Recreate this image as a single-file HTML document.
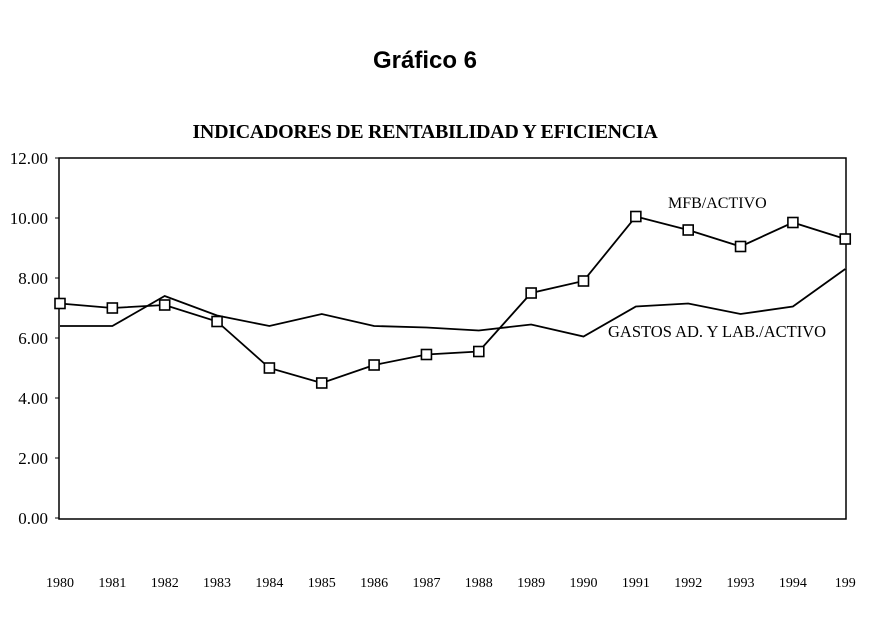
<!DOCTYPE html>
<html><head><meta charset="utf-8"><style>
body{margin:0;background:#fff;width:886px;height:636px;overflow:hidden}
svg{display:block}
</style></head><body>
<svg id="chart" width="886" height="636" font-family="Liberation Serif, serif">
<text x="425" y="68" text-anchor="middle" font-family="Liberation Sans, sans-serif" font-weight="bold" font-size="24">Gráfico 6</text>
<text x="425" y="138" text-anchor="middle" font-weight="bold" font-size="20" letter-spacing="-0.3">INDICADORES DE RENTABILIDAD Y EFICIENCIA</text>
<rect x="59" y="158" width="787" height="361" fill="none" stroke="#000" stroke-width="1.5"/>
<g id="yticks"></g><g id="xticks"></g><g id="series"></g>
<text x="668" y="208" font-size="16">MFB/ACTIVO</text>
<text x="608" y="337" font-size="16.5">GASTOS AD. Y LAB./ACTIVO</text>
</svg>
<script>
const years=["1980","1981","1982","1983","1984","1985","1986","1987","1988","1989","1990","1991","1992","1993","1994","199"];
const mfb=[7.15,7.0,7.1,6.55,5.0,4.5,5.1,5.45,5.55,7.5,7.9,10.05,9.6,9.05,9.85,9.3];
const gastos=[6.4,6.4,7.4,6.75,6.4,6.8,6.4,6.35,6.25,6.45,6.05,7.05,7.15,6.8,7.05,8.3];
const yTicks=[0,2,4,6,8,10,12];
const NS="http://www.w3.org/2000/svg";
const x=i=>60+i*52.35;
const y=v=>518-v*30;
function mk(t,a,p){const e=document.createElementNS(NS,t);for(const k in a)e.setAttribute(k,a[k]);p.appendChild(e);return e;}
const yt=document.getElementById('yticks');
yTicks.forEach(v=>{
 const l=mk('line',{x1:55,x2:59,y1:y(v),y2:y(v),stroke:'#000'},yt);
 
 
 const t=mk('text',{x:48,y:y(v)+6,'text-anchor':'end','font-size':'17'},yt);
 t.textContent=v.toFixed(2);
 
 
});
const xt=document.getElementById('xticks');
years.forEach((yr,i)=>{
 const t=mk('text',{x:x(i),y:587,'text-anchor':'middle','font-size':'14'},xt);
 t.textContent=yr;
 
 
});
const sg=document.getElementById('series');
const g=mk('polyline',{points:gastos.map((v,i)=>x(i)+','+y(v)).join(' '),fill:'none',stroke:'#000','stroke-width':1.8},sg);


const m=mk('polyline',{points:mfb.map((v,i)=>x(i)+','+y(v)).join(' '),fill:'none',stroke:'#000','stroke-width':1.8},sg);


mfb.forEach((v,i)=>{
 const r=mk('rect',{x:x(i)-5,y:y(v)-5,width:10,height:10,fill:'#fff',stroke:'#000','stroke-width':1.6},sg);
 
 
});
</script>
</body></html>
